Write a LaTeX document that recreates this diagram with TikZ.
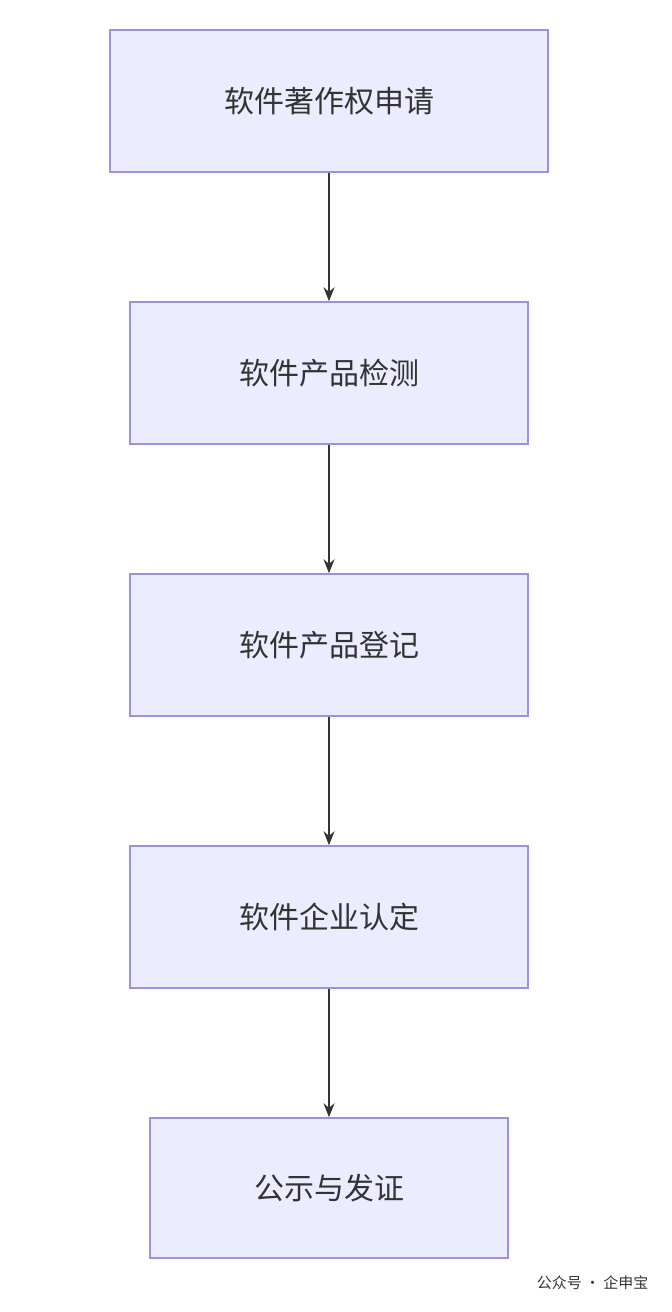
\documentclass[tikz,border=0pt]{standalone}
\usepackage{fontspec}
\newfontfamily\cjk{Noto Sans CJK SC}
\usetikzlibrary{arrows.meta}
\definecolor{boxfill}{HTML}{ECECFF}
\definecolor{boxline}{HTML}{9F8FE0}
\definecolor{txt}{HTML}{333333}
\begin{document}
\begin{tikzpicture}[x=1pt,y=-1pt,
  box/.style={draw=boxline,fill=boxfill,line width=1.5pt,minimum height=142pt,text=txt,font=\cjk\fontsize{30}{36}\selectfont,inner sep=0pt},
  arr/.style={draw=txt,line width=1.5pt,-{Stealth[length=14pt,width=11pt]}}]
\useasboundingbox (0,0) rectangle (672,1312);
\fill[white] (0,0) rectangle (672,1312);
\node[box,minimum width=438pt] (a) at (329,101) {软件著作权申请};
\node[box,minimum width=398pt] (b) at (329,373) {软件产品检测};
\node[box,minimum width=398pt] (c) at (329,645) {软件产品登记};
\node[box,minimum width=398pt] (d) at (329,917) {软件企业认定};
\node[box,minimum width=358pt,minimum height=140pt] (e) at (329,1188) {公示与发证};
\draw[arr] (a) -- (b);
\draw[arr] (b) -- (c);
\draw[arr] (c) -- (d);
\draw[arr] (d) -- (e);
\node[font=\cjk\fontsize{15}{18}\selectfont,text=txt,anchor=east] (w) at (652,1283) {公众号 · 企申宝};
\end{tikzpicture}
\end{document}
